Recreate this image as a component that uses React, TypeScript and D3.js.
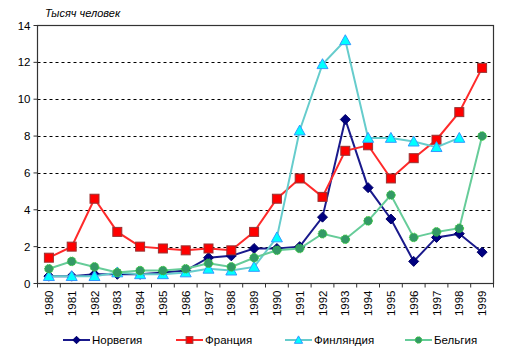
import React from "react";
import * as d3 from "d3";

const years = ["1980","1981","1982","1983","1984","1985","1986","1987","1988","1989","1990","1991","1992","1993","1994","1995","1996","1997","1998","1999"];
const norway = [0.4,0.4,0.5,0.5,0.5,0.6,0.7,1.4,1.5,1.9,1.9,2.0,3.6,8.9,5.2,3.5,1.2,2.5,2.7,1.7];
const france = [1.4,2.0,4.6,2.8,2.0,1.9,1.8,1.9,1.8,2.8,4.6,5.7,4.7,7.2,7.5,5.7,6.8,7.8,9.3,11.7];
const finland: (number | null)[] = [0.4,0.4,0.4,0.6,0.5,0.5,0.6,0.8,0.7,0.9,2.5,8.3,11.9,13.2,7.9,7.9,7.7,7.4,7.9,null];
const belgium = [0.8,1.2,0.9,0.6,0.7,0.7,0.8,1.1,0.9,1.4,1.8,1.9,2.7,2.4,3.4,4.8,2.5,2.8,3.0,8.0];
const yTicks = [0,2,4,6,8,10,12,14];
const seriesNames = ["Норвегия","Франция","Финляндия","Бельгия"];
const yTitle = "Тысяч человек";

const W = 514, H = 357;
const L = 37.5, R = 493.5, T = 25.5, B = 283.5;
const font = "'Liberation Sans', Arial, sans-serif";

type Marker = "diamond" | "square" | "triangle" | "circle";
const series = [
  { name: seriesNames[0], data: norway as (number|null)[], line: "#1A1A8C", fill: "#000080", stroke: "#000066", marker: "diamond" as Marker },
  { name: seriesNames[1], data: france as (number|null)[], line: "#FF2A2A", fill: "#FF0000", stroke: "#993333", marker: "square" as Marker },
  { name: seriesNames[2], data: finland, line: "#66CCCC", fill: "#00FFFF", stroke: "#3399FF", marker: "triangle" as Marker },
  { name: seriesNames[3], data: belgium as (number|null)[], line: "#66CC99", fill: "#339966", stroke: "#33CC33", marker: "circle" as Marker },
];

function MarkerShape({ type, x, y, fill, stroke, small }: { type: Marker; x: number; y: number; fill: string; stroke: string; small?: boolean }) {
  const k = small ? 0.75 : 1;
  if (type === "diamond") {
    const s = 5 * k;
    return <path d={`M${x},${y - s}L${x + s},${y}L${x},${y + s}L${x - s},${y}Z`} fill={fill} stroke={stroke} strokeWidth={1} />;
  }
  if (type === "square") {
    const s = 4.5 * k;
    return <rect x={x - s} y={y - s} width={2 * s} height={2 * s} fill={fill} stroke={stroke} strokeWidth={1} />;
  }
  if (type === "triangle") {
    const s = 5.5 * k;
    return <path d={`M${x},${y - s}L${x + s},${y + s * 0.8}L${x - s},${y + s * 0.8}Z`} fill={fill} stroke={stroke} strokeWidth={1} />;
  }
  return <circle cx={x} cy={y} r={4.3 * k} fill={fill} stroke={stroke} strokeWidth={1} strokeDasharray="1.5,1" />;
}

export default function App() {
  const x = d3.scaleBand<string>().domain(years).range([L, R]);
  const y = d3.scaleLinear().domain([0, 14]).range([B, T]);
  const cx = (yr: string) => (x(yr) as number) + x.bandwidth() / 2;
  const lineGen = d3.line<number | null>()
    .defined((d) => d !== null)
    .x((_, i) => cx(years[i]))
    .y((d) => y(d as number));

  const legendX = [63, 176, 285, 405];
  const legendY = 340;

  return (
    <svg width={W} height={H} style={{ position: "absolute", left: 0, top: 0, background: "#fff" }}>
      <rect x={0} y={0} width={W} height={H} fill="#fff" />
      {yTicks.filter((t) => t > 0 && t < 14).map((t) => (
        <line key={t} x1={L} x2={R} y1={Math.round(y(t)) + 0.5} y2={Math.round(y(t)) + 0.5} stroke="#000" strokeWidth={1} strokeDasharray="3,3" />
      ))}
      <rect x={L} y={T} width={R - L} height={B - T} fill="none" stroke="#333" strokeWidth={1.2} />
      {yTicks.map((t) => (
        <g key={t}>
          <line x1={L - 4} x2={L} y1={y(t)} y2={y(t)} stroke="#333" />
          <text x={L - 7} y={y(t) + 4} textAnchor="end" fontFamily={font} fontSize={11.5} fill="#000">{t}</text>
        </g>
      ))}
      {years.map((yr) => (
        <line key={"t" + yr} x1={(x(yr) as number)} x2={(x(yr) as number)} y1={B} y2={B + 4} stroke="#333" />
      ))}
      <line x1={R} x2={R} y1={B} y2={B + 4} stroke="#333" />
      {years.map((yr) => (
        <text key={yr} transform={`translate(${cx(yr) + 4},${B + 7}) rotate(-90)`} textAnchor="end" fontFamily={font} fontSize={11.5} fill="#000">{yr}</text>
      ))}
      <text x={45} y={17} fontFamily={font} fontStyle="italic" fontSize={11} fill="#000">{yTitle}</text>
      {series.map((s) => (
        <g key={s.name}>
          <path d={lineGen(s.data) || ""} fill="none" stroke={s.line} strokeWidth={2} />
          {s.data.map((v, i) => v === null ? null : (
            <MarkerShape key={i} type={s.marker} x={cx(years[i])} y={y(v)} fill={s.fill} stroke={s.stroke} />
          ))}
        </g>
      ))}
      {series.map((s, i) => (
        <g key={"lg" + s.name}>
          <line x1={legendX[i]} x2={legendX[i] + 27} y1={legendY} y2={legendY} stroke={s.line} strokeWidth={2} />
          <MarkerShape type={s.marker} x={legendX[i] + 13.5} y={legendY} fill={s.fill} stroke={s.stroke} small />
          <text x={legendX[i] + 29} y={legendY + 4} fontFamily={font} fontSize={11.5} fill="#000">{s.name}</text>
        </g>
      ))}
    </svg>
  );
}
